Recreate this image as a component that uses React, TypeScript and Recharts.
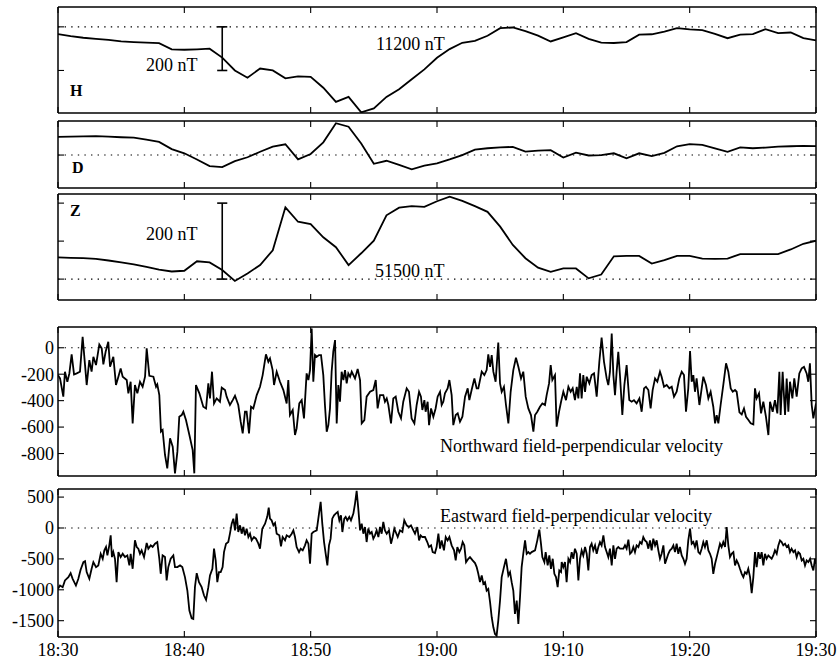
import React from "react";
import { LineChart, Line, XAxis, YAxis, ReferenceLine } from "recharts";

// magnetometer, one sample per minute from 18:30
const hField = [
  11167, 11157, 11150, 11145, 11140, 11133, 11130, 11128, 11125, 11097,
  11095, 11097, 11100, 11059, 11000, 10967, 11009, 11000, 10964, 10973,
  10971, 10921, 10856, 10879, 10808, 10826, 10879, 10914, 10960, 11005,
  11058, 11098, 11127, 11136, 11159, 11194, 11197, 11180, 11160, 11133,
  11152, 11171, 11145, 11128, 11126, 11130, 11164, 11166, 11178, 11194,
  11188, 11185, 11168, 11148, 11164, 11167, 11189, 11171, 11174, 11148,
  11138,
];
const dField = [
  83, 84, 85, 86, 84, 81, 79, 70, 60, 27,
  8, -20, -50, -55, -28, -10, 15, 38, 49, -20,
  5, 58, 145, 129, 53, -40, -26, -45, -65, -48,
  -38, -20, 0, 25, 31, 35, 37, 16, 20, 22,
  -11, 11, -2, 0, 8, -15, 8, -5, 10, 40,
  50, 46, 30, 15, 35, 31, 34, 38, 40, 42,
  41,
];
const zField = [
  51557, 51556, 51555, 51553, 51549, 51544, 51539, 51532, 51525, 51520,
  51522, 51547, 51544, 51524, 51495, 51515, 51537, 51576, 51689, 51651,
  51645, 51610, 51584, 51537, 51568, 51601, 51668, 51688, 51692, 51690,
  51705, 51717, 51706, 51692, 51677, 51638, 51590, 51555, 51530, 51519,
  51528, 51528, 51502, 51512, 51560, 51561, 51561, 51541, 51550, 51561,
  51561, 51554, 51553, 51554, 51566, 51566, 51566, 51566, 51578, 51593,
  51601,
];

// [minutes after 18:30, m/s]
const northVel: [number, number][] = [
  [0, -207], [0.16, -232], [0.42, -370], [0.55, -181], [0.74, -257], [0.9, -194], [1.08, -50], [1.27, -202],
  [1.48, -194], [1.74, -181], [1.95, 83], [2.14, -131], [2.27, -282], [2.48, -93], [2.66, -181], [2.8, -68],
  [3.01, -131], [3.27, 25], [3.46, -5], [3.59, -126], [3.77, -30], [3.98, 45], [4.12, -144], [4.38, -68],
  [4.59, -282], [4.78, -219], [4.96, -156], [5.12, -219], [5.44, -244], [5.57, -345], [5.75, -257], [5.91, -572],
  [6.09, -282], [6.28, -345], [6.49, -257], [6.7, -295], [6.89, -219], [7.02, -5], [7.23, -212], [7.55, -219],
  [7.76, -295], [7.86, -277], [8.02, -358], [8.15, -635], [8.28, -622], [8.47, -811], [8.65, -912], [8.87, -685],
  [9.08, -748], [9.26, -950], [9.45, -786], [9.6, -522], [9.79, -509], [9.92, -484], [10.13, -547], [10.4, -660],
  [10.66, -774], [10.79, -950], [10.92, -282], [11.19, -345], [11.5, -446], [11.72, -459], [11.9, -270], [12.03, -383],
  [12.19, -181], [12.35, -421], [12.56, -383], [12.82, -408], [12.96, -302], [13.22, -320], [13.35, -370], [13.61, -433],
  [13.83, -396], [14.01, -363], [14.27, -433], [14.46, -559], [14.62, -648], [14.8, -484], [14.93, -484], [15.12, -648],
  [15.28, -446], [15.46, -459], [15.73, -358], [15.99, -295], [16.2, -207], [16.46, -50], [16.65, -106], [16.78, -81],
  [16.99, -169], [17.1, -282], [17.31, -181], [17.57, -257], [17.84, -320], [18.1, -421], [18.23, -244], [18.36, -509],
  [18.58, -471], [18.76, -660], [18.89, -610], [19.1, -421], [19.29, -396], [19.47, -534], [19.68, -194], [19.82, -244],
  [19.95, -169], [20.08, 146], [20.21, -257], [20.34, -55], [20.48, -68], [20.66, -55], [20.82, -55], [21.0, -207],
  [21.13, -433], [21.27, -635], [21.4, -585], [21.53, -459], [21.66, -181], [21.79, -30], [21.93, 58], [22.06, -572],
  [22.19, -282], [22.32, -408], [22.45, -181], [22.59, -244], [22.72, -169], [22.85, -270], [22.98, -194], [23.12, -219],
  [23.25, -181], [23.51, -232], [23.72, -161], [23.91, -244], [24.04, -572], [24.25, -547], [24.43, -370], [24.7, -333],
  [24.96, -320], [25.15, -244], [25.3, -459], [25.49, -358], [25.75, -358], [25.88, -408], [26.02, -383], [26.15, -433],
  [26.36, -572], [26.54, -383], [26.73, -370], [26.94, -484], [27.15, -534], [27.33, -408], [27.6, -307], [27.78, -333],
  [27.99, -534], [28.21, -572], [28.39, -433], [28.58, -333], [28.73, -370], [28.84, -471], [29.0, -396], [29.1, -484],
  [29.26, -408], [29.37, -585], [29.53, -459], [29.71, -522], [29.89, -459], [30.05, -370], [30.24, -333], [30.37, -433],
  [30.5, -408], [30.63, -345], [30.84, -307], [30.98, -244], [31.16, -358], [31.29, -585], [31.48, -509], [31.64, -496],
  [31.82, -559], [32.01, -522], [32.22, -370], [32.43, -307], [32.56, -396], [32.74, -320], [32.96, -232], [33.14, -307],
  [33.27, -307], [33.54, -181], [33.75, -207], [33.93, -169], [34.06, -50], [34.2, -144], [34.33, -55], [34.46, -181],
  [34.64, -257], [34.85, 40], [34.99, -270], [35.12, -333], [35.3, -295], [35.46, -433], [35.65, -572], [35.83, -333],
  [36.04, -169], [36.25, -76], [36.44, -144], [36.65, -232], [36.83, -181], [37.02, -370], [37.23, -459], [37.44, -509],
  [37.63, -635], [37.76, -509], [37.94, -484], [38.15, -446], [38.34, -421], [38.55, -433], [38.68, -358], [38.87, -270],
  [39.0, -131], [39.13, -244], [39.34, -207], [39.47, -597], [39.66, -484], [39.82, -408], [40.0, -333], [40.21, -396],
  [40.4, -295], [40.58, -333], [40.74, -307], [40.92, -396], [41.06, -295], [41.19, -383], [41.32, -194], [41.45, -383],
  [41.58, -207], [41.72, -333], [41.85, -219], [42.06, -270], [42.24, -207], [42.43, -194], [42.64, -370], [42.85, -106],
  [43.03, 76], [43.22, -106], [43.43, -232], [43.56, -282], [43.69, -181], [43.83, 108], [43.96, -207], [44.09, -358],
  [44.22, -181], [44.35, -30], [44.49, -219], [44.67, -509], [44.83, -282], [45.01, -131], [45.22, -396], [45.41, -408],
  [45.59, -396], [45.8, -421], [46.02, -383], [46.2, -484], [46.39, -307], [46.54, -295], [46.73, -320], [46.91, -459],
  [47.07, -320], [47.26, -232], [47.44, -257], [47.65, -181], [47.78, -219], [47.97, -295], [48.18, -282], [48.39, -307],
  [48.58, -295], [48.76, -370], [48.97, -333], [49.18, -232], [49.37, -181], [49.55, -207], [49.71, -484], [49.89, -307],
  [50.03, -25], [50.16, -257], [50.29, -207], [50.42, -333], [50.55, -232], [50.77, -433], [50.95, -307], [51.08, -219],
  [51.29, -282], [51.48, -383], [51.66, -333], [51.87, -446], [52.01, -572], [52.14, -509], [52.27, -572], [52.45, -433],
  [52.66, -282], [52.88, -118], [53.06, -181], [53.25, -307], [53.41, -333], [53.59, -320], [53.72, -333], [53.94, -489],
  [54.12, -504], [54.3, -459], [54.46, -522], [54.65, -547], [54.83, -572], [55.04, -580], [55.17, -307], [55.3, -383],
  [55.49, -345], [55.65, -496], [55.83, -408], [56.04, -522], [56.23, -660], [56.36, -408], [56.57, -484], [56.75, -396],
  [56.94, -496], [57.1, -181], [57.2, -509], [57.36, -181], [57.55, -509], [57.68, -232], [57.81, -484], [57.94, -257],
  [58.13, -383], [58.28, -232], [58.47, -370], [58.68, -194], [58.87, -156], [59.05, -144], [59.26, -194], [59.39, -257],
  [59.52, -118], [59.66, -433], [59.79, -534], [60.0, -421],
];

const eastVel: [number, number][] = [
  [0, -985], [0.16, -931], [0.37, -958], [0.55, -849], [0.82, -795], [1.0, -730], [1.16, -822], [1.42, -931],
  [1.61, -822], [1.79, -676], [2.01, -552], [2.14, -536], [2.27, -714], [2.48, -822], [2.66, -660], [2.8, -552],
  [3.01, -633], [3.19, -606], [3.38, -417], [3.54, -498], [3.67, -362], [3.8, -308], [3.91, -444], [4.06, -281],
  [4.17, -119], [4.27, -471], [4.38, -390], [4.51, -498], [4.64, -876], [4.78, -390], [4.96, -471], [5.12, -417],
  [5.3, -471], [5.49, -444], [5.65, -606], [5.75, -417], [5.91, -660], [6.09, -200], [6.23, -308], [6.36, -335],
  [6.49, -417], [6.62, -362], [6.81, -471], [7.02, -243], [7.15, -335], [7.34, -281], [7.49, -308], [7.68, -254],
  [7.86, -227], [8.02, -498], [8.13, -741], [8.28, -444], [8.47, -471], [8.6, -849], [8.73, -633], [8.92, -498],
  [9.13, -444], [9.26, -633], [9.45, -633], [9.66, -606], [9.84, -633], [10.05, -795], [10.24, -1012], [10.4, -1336],
  [10.58, -1461], [10.71, -1472], [10.84, -958], [10.98, -730], [11.16, -876], [11.37, -958], [11.56, -1093], [11.72, -1163],
  [11.9, -958], [12.03, -768], [12.22, -660], [12.35, -335], [12.48, -525], [12.61, -876], [12.74, -714], [12.88, -714],
  [13.03, -633], [13.14, -390], [13.3, -254], [13.48, -227], [13.61, -92], [13.75, 70], [13.88, 151], [14.01, -38],
  [14.14, 233], [14.27, -65], [14.41, 43], [14.54, -92], [14.67, 16], [14.8, -119], [14.93, -11], [15.07, -146],
  [15.2, -92], [15.33, -200], [15.51, -146], [15.67, -173], [15.86, -254], [15.99, -335], [16.17, -11], [16.39, 70],
  [16.57, 189], [16.68, 330], [16.78, 151], [16.91, 124], [17.05, 43], [17.18, 81], [17.31, -92], [17.52, -119],
  [17.65, -298], [17.78, -146], [17.97, -200], [18.1, -119], [18.31, -146], [18.5, -92], [18.63, -38], [18.76, -146],
  [18.89, -308], [19.08, -390], [19.21, -335], [19.37, -362], [19.55, -281], [19.68, -200], [19.82, -254], [19.95, -579],
  [20.08, -92], [20.21, -65], [20.48, -38], [20.66, 233], [20.79, 422], [20.92, 70], [21.06, -227], [21.19, -417],
  [21.32, -606], [21.45, -281], [21.58, -173], [21.71, 151], [21.85, 206], [21.98, 233], [22.14, 260], [22.27, 124],
  [22.4, 206], [22.51, -65], [22.66, 151], [22.77, 179], [22.9, 124], [23.06, 179], [23.19, 124], [23.38, 233],
  [23.51, 395], [23.64, 600], [23.77, 314], [23.91, -38], [24.04, 70], [24.17, -92], [24.3, 16], [24.43, -227],
  [24.56, -11], [24.7, -92], [24.83, -65], [24.96, -173], [25.09, -119], [25.22, -38], [25.36, -146], [25.49, 16],
  [25.62, -92], [25.75, 97], [25.88, -38], [26.02, -92], [26.2, -38], [26.36, -254], [26.49, -146], [26.62, -11],
  [26.73, -65], [26.89, -146], [27.07, -38], [27.26, -65], [27.41, 124], [27.6, 43], [27.78, 16], [27.94, 43],
  [28.13, -38], [28.26, -92], [28.44, 16], [28.58, -200], [28.71, -119], [28.84, -146], [29.05, -146], [29.23, -227],
  [29.37, -308], [29.53, -281], [29.66, -390], [29.84, -406], [29.97, -308], [30.11, -92], [30.24, -335], [30.37, -200],
  [30.55, -362], [30.69, -146], [30.84, -200], [30.98, -146], [31.16, -281], [31.35, -362], [31.48, -525], [31.61, -308],
  [31.77, -390], [31.9, -335], [32.03, -227], [32.16, -281], [32.3, -552], [32.48, -498], [32.61, -471], [32.82, -525],
  [33.01, -568], [33.14, -633], [33.27, -741], [33.4, -876], [33.54, -768], [33.67, -903], [33.8, -876], [33.93, -1012],
  [34.06, -985], [34.2, -1201], [34.33, -1444], [34.46, -1607], [34.59, -1715], [34.72, -1742], [34.85, -1499], [34.99, -1174],
  [35.12, -795], [35.3, -633], [35.46, -498], [35.65, -768], [35.78, -714], [35.91, -876], [36.04, -1012], [36.17, -1390],
  [36.31, -1174], [36.44, -1553], [36.57, -1120], [36.7, -633], [36.83, -417], [36.97, -200], [37.1, -417], [37.23, -390],
  [37.36, -417], [37.49, -390], [37.76, -362], [37.94, -200], [38.1, -27], [38.23, -254], [38.34, -471], [38.5, -552],
  [38.6, -390], [38.76, -606], [38.89, -444], [39.02, -660], [39.16, -498], [39.29, -741], [39.42, -795], [39.55, -958],
  [39.68, -687], [39.82, -714], [39.87, -552], [40.0, -633], [40.13, -552], [40.26, -876], [40.4, -498], [40.53, -552],
  [40.66, -390], [40.79, -498], [40.92, -335], [41.06, -417], [41.19, -849], [41.32, -498], [41.45, -362], [41.58, -444],
  [41.72, -308], [41.85, -417], [41.98, -687], [42.11, -308], [42.24, -254], [42.37, -362], [42.51, -281], [42.64, -417],
  [42.77, -308], [42.9, -227], [43.03, -281], [43.17, -119], [43.3, -308], [43.43, -390], [43.56, -471], [43.69, -335],
  [43.83, -606], [43.96, -281], [44.09, -498], [44.22, -335], [44.35, -308], [44.49, -335], [44.75, -335], [44.88, -281],
  [45.01, -335], [45.15, -189], [45.28, -417], [45.41, -390], [45.54, -308], [45.67, -390], [45.8, -281], [45.94, -308],
  [46.07, -227], [46.2, -254], [46.33, -146], [46.46, -200], [46.6, -227], [46.73, -335], [46.86, -200], [46.99, -362],
  [47.12, -173], [47.26, -281], [47.39, -200], [47.52, -362], [47.65, -498], [47.78, -417], [47.92, -281], [48.05, -579],
  [48.18, -498], [48.31, -417], [48.44, -362], [48.58, -335], [48.71, -281], [48.84, -390], [48.97, -254], [49.1, -417],
  [49.23, -308], [49.37, -444], [49.5, -498], [49.63, -579], [49.76, -498], [49.89, -200], [50.03, -11], [50.16, -254],
  [50.29, -227], [50.42, -308], [50.55, -200], [50.69, -390], [50.82, -417], [50.95, -335], [51.08, -227], [51.21, -308],
  [51.35, -200], [51.48, -362], [51.61, -417], [51.74, -498], [51.87, -741], [52.01, -579], [52.14, -471], [52.27, -362],
  [52.4, -254], [52.53, -308], [52.66, -227], [52.8, -308], [52.93, 16], [53.06, -281], [53.19, -471], [53.32, -417],
  [53.46, -390], [53.59, -606], [53.72, -525], [53.85, -579], [53.98, -660], [54.12, -741], [54.25, -795], [54.38, -714],
  [54.51, -741], [54.64, -660], [54.78, -795], [54.91, -1055], [55.04, -795], [55.17, -390], [55.3, -633], [55.44, -390],
  [55.57, -498], [55.7, -390], [55.83, -606], [55.96, -417], [56.09, -498], [56.23, -444], [56.36, -471], [56.49, -498],
  [56.62, -444], [56.75, -362], [56.89, -417], [57.02, -281], [57.15, -200], [57.28, -227], [57.41, -281], [57.55, -254],
  [57.68, -308], [57.81, -281], [57.94, -390], [58.07, -335], [58.21, -390], [58.34, -362], [58.47, -471], [58.6, -390],
  [58.73, -417], [58.87, -525], [59.0, -498], [59.13, -606], [59.26, -525], [59.39, -552], [59.53, -498], [59.66, -606],
  [59.79, -687], [59.92, -498], [60.0, -579],
];

const timeTicks = [0, 10, 20, 30, 40, 50, 60];
const hTicks = [11000, 11200];
const dTicks = [0];
const zTicks = [51500, 51600, 51700];
const northTicks = [-800, -600, -400, -200, 0];
const eastTicks = [-1500, -1000, -500, 0, 500];

const SERIF = "'Liberation Serif', 'DejaVu Serif', serif";
const W = 839;
const PAD = 4;
const PLOT_W = 758; // 58 .. 816
const TICK = 6; // inward tick length, px

const perMinute = (vals: number[]) => vals.map((v, i) => ({ t: i, v }));
const fromPairs = (pairs: [number, number][]) => pairs.map(([t, v]) => ({ t, v }));

function clock(t: number) {
  const total = 18 * 60 + 30 + t;
  const h = Math.floor(total / 60);
  const m = total % 60;
  return `${h}:${m < 10 ? "0" + m : m}`;
}

const ink = { stroke: "#000", ifOverflow: "visible" as const };

type PanelProps = {
  top: number;
  height: number;
  data: { t: number; v: number }[];
  domain: [number, number];
  yTicks: number[];
  refY: number;
  yLabels?: boolean;
  xLabels?: boolean;
  children?: React.ReactNode;
};

function Panel({ top, height, data, domain, yTicks, refY, yLabels, xLabels, children }: PanelProps) {
  const xh = xLabels ? 26 : 0;
  const [lo, hi] = domain;
  const dy = (TICK / height) * (hi - lo);
  const dx = (TICK / PLOT_W) * 60;
  const tickFont = { fill: "#000", fontSize: 18, fontFamily: SERIF };

  // frame and inward ticks on all four sides
  const frame = [
    <ReferenceLine key="fl" segment={[{ x: 0, y: lo }, { x: 0, y: hi }]} strokeWidth={1.5} {...ink} />,
    <ReferenceLine key="fr" segment={[{ x: 60, y: lo }, { x: 60, y: hi }]} strokeWidth={1.5} {...ink} />,
    <ReferenceLine key="fb" segment={[{ x: 0, y: lo }, { x: 60, y: lo }]} strokeWidth={1.5} {...ink} />,
    <ReferenceLine key="ft" segment={[{ x: 0, y: hi }, { x: 60, y: hi }]} strokeWidth={1.5} {...ink} />,
    ...timeTicks.flatMap((t) => [
      <ReferenceLine key={"xb" + t} segment={[{ x: t, y: lo }, { x: t, y: lo + dy }]} strokeWidth={1.1} {...ink} />,
      <ReferenceLine key={"xt" + t} segment={[{ x: t, y: hi }, { x: t, y: hi - dy }]} strokeWidth={1.1} {...ink} />,
    ]),
    ...yTicks.flatMap((v) => [
      <ReferenceLine key={"yl" + v} segment={[{ x: 0, y: v }, { x: dx, y: v }]} strokeWidth={1.1} {...ink} />,
      <ReferenceLine key={"yr" + v} segment={[{ x: 60, y: v }, { x: 60 - dx, y: v }]} strokeWidth={1.1} {...ink} />,
    ]),
  ];

  return (
    <div style={{ position: "absolute", left: 0, top: top - PAD }}>
      <LineChart
        width={W}
        height={PAD + height + (xLabels ? xh : PAD)}
        data={data}
        margin={{ top: PAD, right: 23, bottom: xLabels ? 0 : PAD, left: 0 }}
      >
        <XAxis
          dataKey="t"
          type="number"
          domain={[0, 60]}
          ticks={timeTicks}
          interval={0}
          allowDataOverflow
          height={xh}
          tickSize={0}
          tickMargin={6}
          tick={xLabels ? tickFont : false}
          tickFormatter={clock}
          axisLine={false}
          tickLine={false}
        />
        <YAxis
          type="number"
          domain={domain}
          ticks={yTicks}
          interval={0}
          allowDataOverflow
          width={58}
          tickSize={0}
          tickMargin={4}
          tick={yLabels ? tickFont : false}
          axisLine={false}
          tickLine={false}
        />
        <ReferenceLine y={refY} stroke="#000" strokeWidth={1.1} strokeDasharray="1.4 5.2" />
        {frame}
        {children}
        <Line
          dataKey="v"
          type="linear"
          stroke="#000"
          strokeWidth={1.8}
          dot={false}
          isAnimationActive={false}
        />
      </LineChart>
    </div>
  );
}

function scaleBar(t: number, y0: number, y1: number) {
  const s = { stroke: "#000", strokeWidth: 1.6 };
  return [
    <ReferenceLine key="v" segment={[{ x: t, y: y0 }, { x: t, y: y1 }]} {...s} />,
    <ReferenceLine key="a" segment={[{ x: t - 0.4, y: y0 }, { x: t + 0.4, y: y0 }]} {...s} />,
    <ReferenceLine key="b" segment={[{ x: t - 0.4, y: y1 }, { x: t + 0.4, y: y1 }]} {...s} />,
  ];
}

function Note({ x, y, text, bold, size = 18 }: { x: number; y: number; text: string; bold?: boolean; size?: number }) {
  return (
    <div
      style={{
        position: "absolute",
        left: x,
        top: y,
        fontFamily: SERIF,
        fontSize: size,
        fontWeight: bold ? 700 : 400,
        lineHeight: 1,
        whiteSpace: "nowrap",
        color: "#000",
      }}
    >
      {text}
    </div>
  );
}

export default function App() {
  return (
    <div style={{ position: "absolute", left: 0, top: 0, width: W, height: 664, background: "#fff" }}>
      <Panel top={7} height={106} data={perMinute(hField)} domain={[10805, 11291]} yTicks={hTicks} refY={11200}>
        {scaleBar(13, 11200, 11000)}
      </Panel>
      <Panel top={121} height={67} data={perMinute(dField)} domain={[-150, 155]} yTicks={dTicks} refY={0} />
      <Panel top={194} height={106} data={perMinute(zField)} domain={[51445, 51724]} yTicks={zTicks} refY={51500}>
        {scaleBar(13, 51700, 51500)}
      </Panel>
      <Panel top={327} height={149} data={fromPairs(northVel)} domain={[-970, 157]} yTicks={northTicks} refY={0} yLabels />
      <Panel top={489} height={148} data={fromPairs(eastVel)} domain={[-1764, 631]} yTicks={eastTicks} refY={0} yLabels xLabels />

      <Note x={376} y={35} text="11200 nT" />
      <Note x={146} y={56} text="200 nT" />
      <Note x={70} y={83} text="H" bold size={16} />
      <Note x={72} y={160} text="D" bold size={16} />
      <Note x={70} y={203} text="Z" bold size={16} />
      <Note x={146} y={225} text="200 nT" />
      <Note x={375} y={262} text="51500 nT" />
      <Note x={440} y={437} text="Northward field-perpendicular velocity" />
      <Note x={440} y={507} text="Eastward field-perpendicular velocity" />
    </div>
  );
}
